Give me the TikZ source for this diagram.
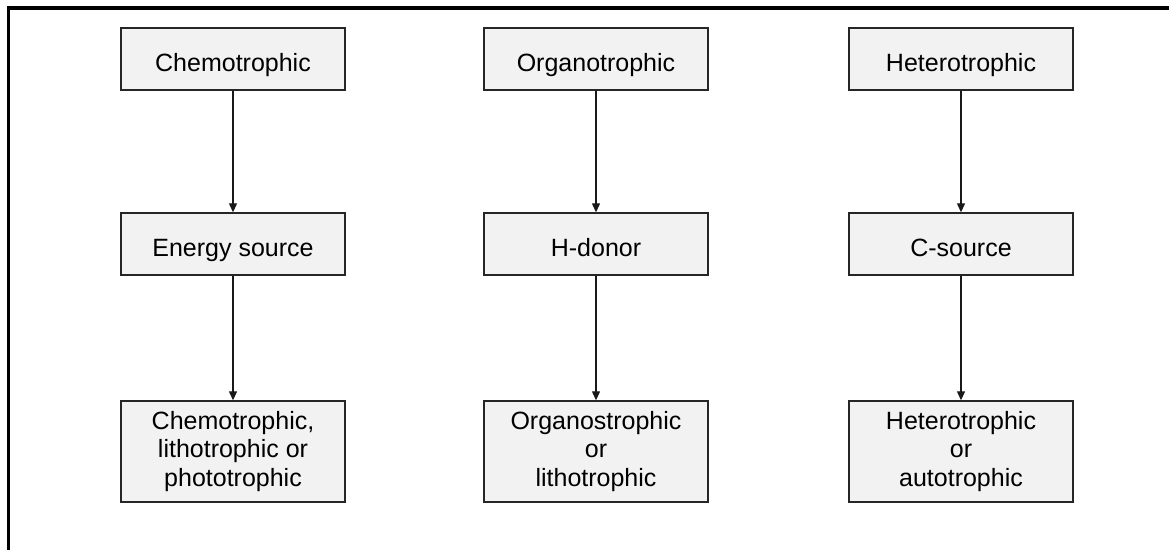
\documentclass[tikz,border=0pt]{standalone}
\usepackage{fontspec}
\setmainfont{Liberation Sans}
\usetikzlibrary{arrows.meta}
\begin{document}
\begin{tikzpicture}[x=1pt,y=-1pt,
  catbox/.style={draw=black!85, line width=1.4pt, fill=black!5, minimum width=224pt,
    align=center, font=\fontsize{25}{28.5}\selectfont, inner sep=0pt},
  onerow/.style={catbox, minimum height=62pt, text height=24pt, text depth=0pt},
  threerow/.style={catbox, minimum height=101pt},
  link/.style={draw=black!90, line width=1.2pt, -{Triangle[length=9pt,width=8pt]}}]
  \useasboundingbox (0,0) rectangle (1169,550);
  % partial frame: top and left edges
  \draw[line width=3.2pt] (8.5,550) -- (8.5,8) -- (1169,8);

  % top row
  \node[onerow] (c1) at (233,59) {Chemotrophic};
  \node[onerow] (o1) at (596,59) {Organotrophic};
  \node[onerow] (h1) at (961,59) {Heterotrophic};
  % middle row
  \node[onerow] (c2) at (233,244) {Energy source};
  \node[onerow] (o2) at (596,244) {H-donor};
  \node[onerow] (h2) at (961,244) {C-source};
  % bottom row
  \node[threerow] (c3) at (233,451.5) {Chemotrophic,\\lithotrophic or\\phototrophic};
  \node[threerow] (o3) at (596,451.5) {Organostrophic\\or\\lithotrophic};
  \node[threerow] (h3) at (961,451.5) {Heterotrophic\\or\\autotrophic};

  \foreach \a/\b in {c1/c2, c2/c3, o1/o2, o2/o3, h1/h2, h2/h3}
    \draw[link] (\a) -- (\b);
\end{tikzpicture}
\end{document}
